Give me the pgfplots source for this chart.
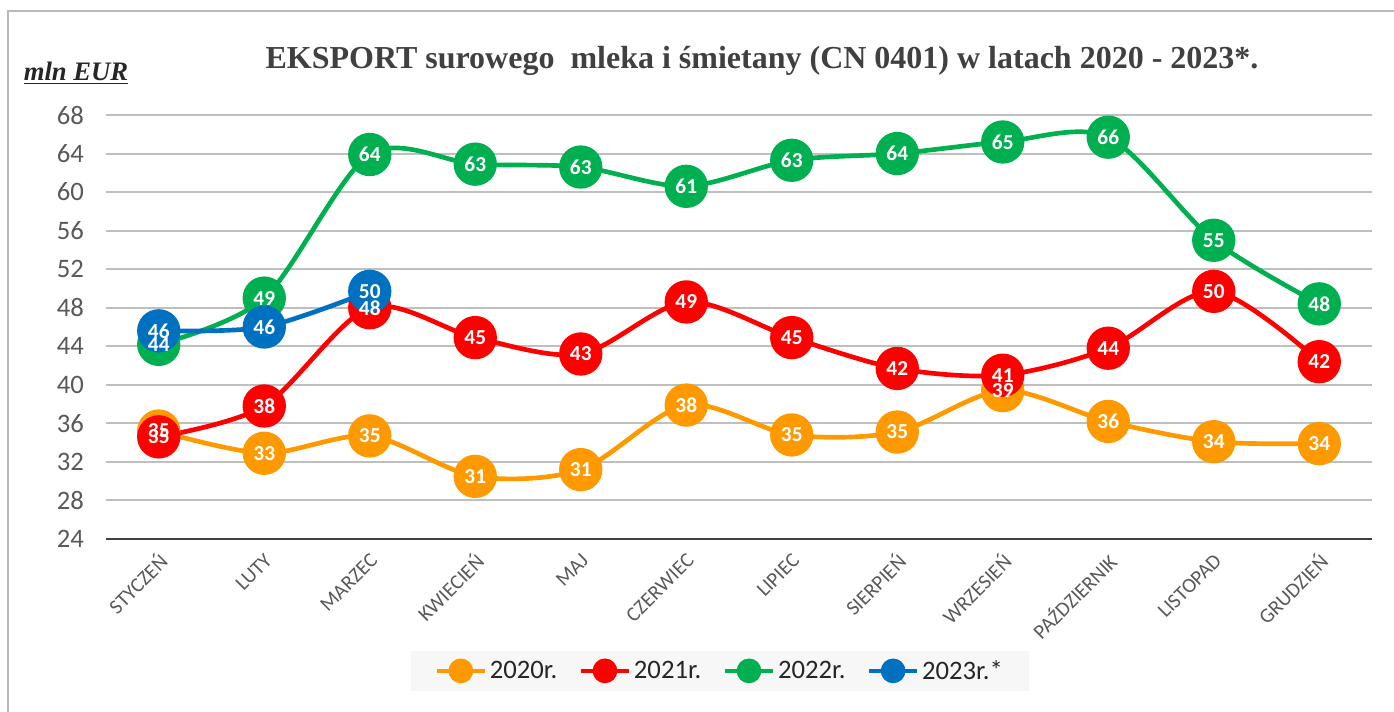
\documentclass[border=0pt]{standalone}
\usepackage{pgfplots}
\usepackage{pgfplotstable}
\pgfplotsset{compat=1.18}
\usepackage{fontspec}
\setmainfont{Carlito}
\newfontfamily\titlefont{Liberation Serif}
\definecolor{cOr}{HTML}{FF9900}
\definecolor{cRd}{HTML}{FF0000}
\definecolor{cGr}{HTML}{00B050}
\definecolor{cBl}{HTML}{0070C0}
\definecolor{txtgray}{HTML}{595959}
\definecolor{titlegray}{HTML}{404040}

\pgfplotstableread{
x y l
0 35.2 35
1 32.9 33
2 34.7 35
3 30.5 31
4 31.2 31
5 37.9 38
6 34.8 35
7 35.1 35
8 39.4 39
9 36.2 36
10 34.1 34
11 33.9 34
}\tA
\pgfplotstableread{
x y l
0 34.6 35
1 37.8 38
2 48.0 48
3 44.9 45
4 43.2 43
5 48.6 49
6 44.9 45
7 41.7 42
8 41.0 41
9 43.8 44
10 49.7 50
11 42.4 42
}\tB
\pgfplotstableread{
x y l
0 44.2 44
1 49.0 49
2 63.9 64
3 62.9 63
4 62.6 63
5 60.6 61
6 63.3 63
7 64.0 64
8 65.2 65
9 65.7 66
10 55.0 55
11 48.4 48
}\tC
\pgfplotstableread{
x y l
0 45.6 46
1 46.0 46
2 49.7 50
}\tD

\begin{document}
\begin{tikzpicture}
\useasboundingbox (0,0) rectangle (1045.5pt,533.25pt);
\draw[gray!55, line width=1.8pt] (6pt,-10pt) -- (6pt,524.9pt) -- (1060pt,524.9pt);
\begin{axis}[
  at={(79.5pt,129pt)}, anchor=south west,
  scale only axis, width=949.5pt, height=318pt,
  xmin=-0.5, xmax=11.5, ymin=24, ymax=68,
  clip=false,
  axis line style={draw=none},
  major tick length=0pt,
  ytick={24,28,...,68},
  yticklabels={24,28,32,36,40,44,48,52,56,60,64,68},
  yticklabel style={font=\fontsize{20}{22}\selectfont, text=txtgray, xshift=-13pt},
  ymajorgrids, grid style={gray!50, line width=1.5pt},
  xtick={0,...,11},
  xticklabels={STYCZEŃ, LUTY, MARZEC, KWIECIEŃ, MAJ, CZERWIEC, LIPIEC, SIERPIEŃ, WRZESIEŃ, PAŹDZIERNIK, LISTOPAD, GRUDZIEŃ},
  xticklabel style={rotate=45, anchor=east, font=\fontsize{15.5}{17}\selectfont, text=txtgray, xshift=-4pt, yshift=-12pt},
  every axis plot/.append style={smooth, line width=3.5pt, mark=*, mark size=14.5pt, mark options={solid}},
  legend columns=4,
  legend style={at={(0.485,-0.311)}, anchor=center, fill=black!3, draw=none,
    font=\fontsize{20}{22}\selectfont, text=black!85, inner xsep=18pt, inner ysep=5pt,
    /tikz/every even column/.append style={column sep=14pt}},
  legend image code/.code={\draw[line width=3.5pt] (0pt,0pt) -- (36pt,0pt); \fill (18pt,0pt) circle (7.5pt);},
  lbl/.style={draw=none, mark=none, forget plot, nodes near coords, point meta=explicit symbolic,
     nodes near coords align=center,
     every node near coord/.append style={anchor=center, text=white, font=\bfseries\fontsize{16}{18}\selectfont}},
]
\draw[black!75, line width=2.2pt] (rel axis cs:0,0) -- (rel axis cs:1,0);
\addplot[cOr] table[x=x,y=y] {\tA};
\addlegendentry{2020r.}
\addplot[cRd] table[x=x,y=y] {\tB};
\addlegendentry{2021r.}
\addplot[cGr] table[x=x,y=y] {\tC};
\addlegendentry{2022r.}
\addplot[cBl] table[x=x,y=y] {\tD};
\addlegendentry{2023r.*}
\addplot[lbl] table[x=x,y=y,meta=l] {\tA};
\addplot[lbl] table[x=x,y=y,meta=l] {\tB};
\addplot[lbl] table[x=x,y=y,meta=l] {\tC};
\addplot[lbl] table[x=x,y=y,meta=l] {\tD};
\end{axis}
\node[font=\titlefont\bfseries\fontsize{24}{26}\selectfont, text=titlegray] at (571.5pt,487.5pt) {EKSPORT surowego~ mleka i śmietany (CN 0401) w latach 2020 - 2023*.};
\node[font=\titlefont\bfseries\itshape\fontsize{20}{22}\selectfont, text=black!85] at (57pt,478.5pt) {\underline{mln EUR}};
\end{tikzpicture}
\end{document}
